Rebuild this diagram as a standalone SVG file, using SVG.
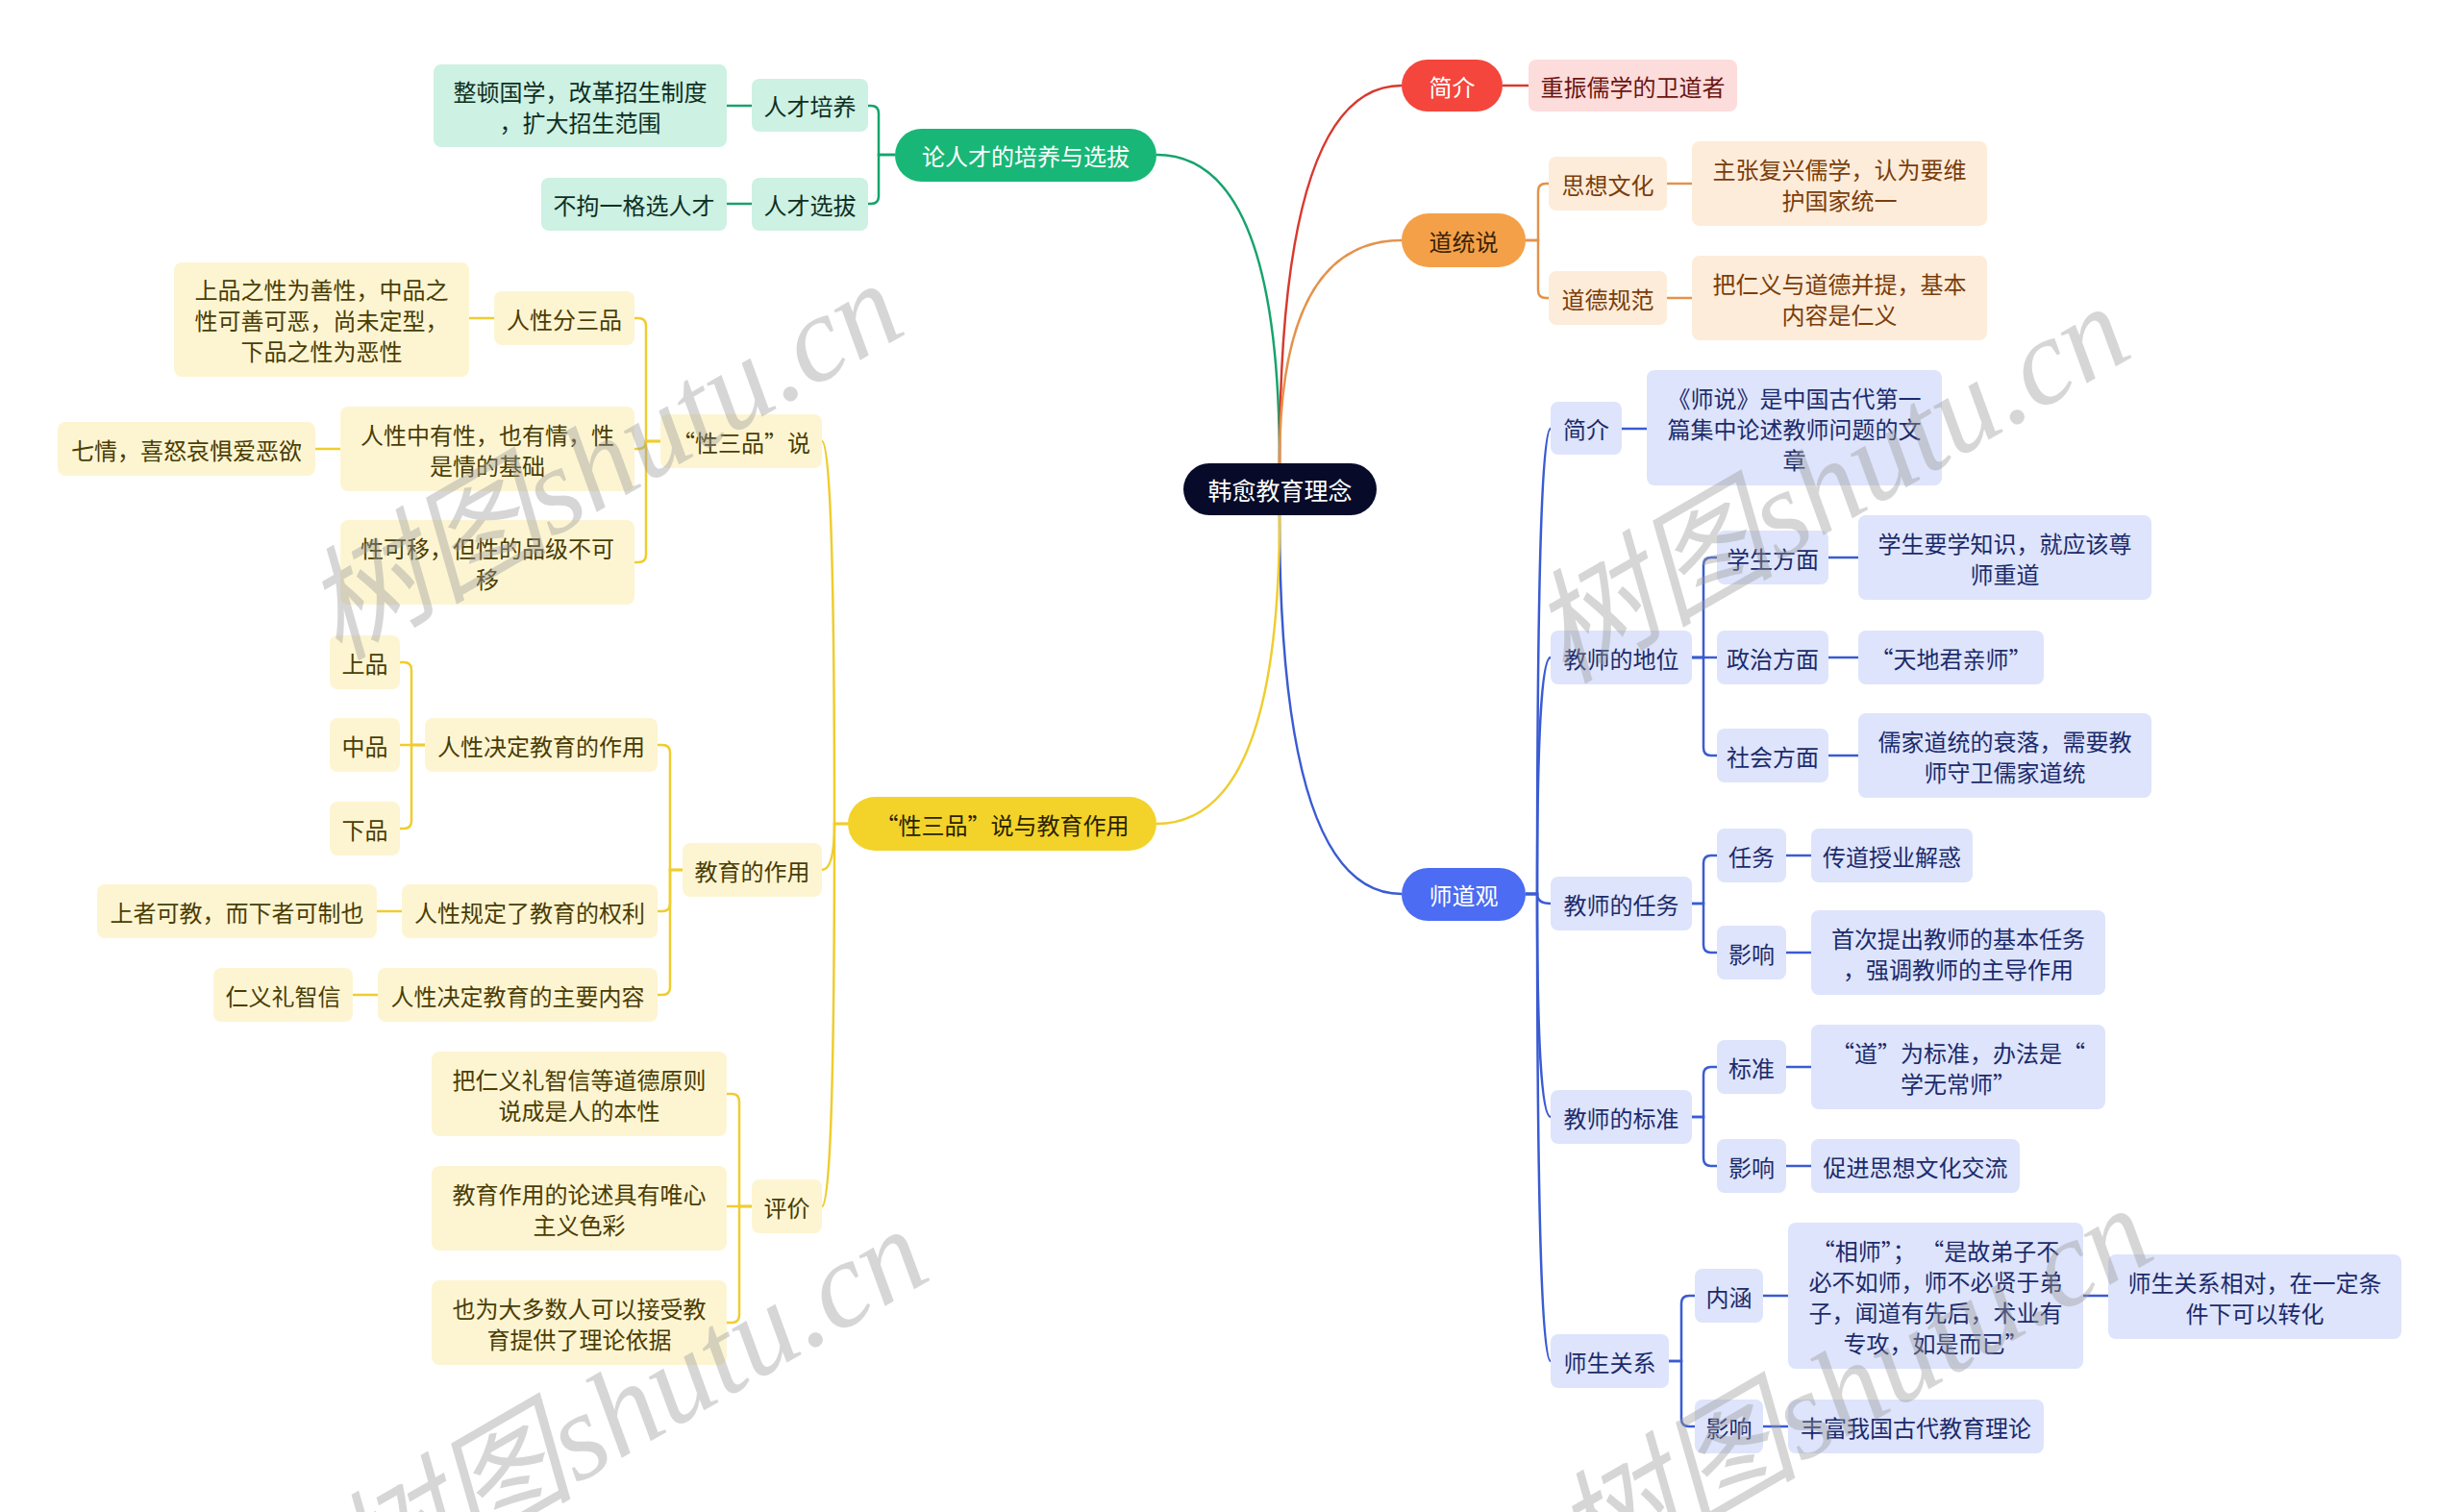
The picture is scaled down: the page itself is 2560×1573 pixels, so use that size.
<svg xmlns="http://www.w3.org/2000/svg" width="2560" height="1573" viewBox="0 0 2560 1573">
<style>
text{font-family:"Noto Sans CJK SC","Noto Sans",sans-serif;font-size:24px;text-anchor:middle;dominant-baseline:central}
.root rect{fill:#070b29}.root text{fill:#fff;font-size:25px}
.gm rect{fill:#18b777}.gm text{fill:#fff}
.gc rect{fill:#cdf1e3}.gc text{fill:#0e2e22}
.rm rect{fill:#f4463c}.rm text{fill:#fff}
.rc rect{fill:#fddcdc}.rc text{fill:#6b1510}
.om rect{fill:#f4a048}.om text{fill:#3b2206}
.oc rect{fill:#fdecd9}.oc text{fill:#7a3d0b}
.bm rect{fill:#4b6cf3}.bm text{fill:#fff}
.bc rect{fill:#dee4fb}.bc text{fill:#1c2b6c}
.ym rect{fill:#f3d32a}.ym text{fill:#2a2200}
.yc rect{fill:#fdf5d2}.yc text{fill:#4a3d05}
#connectors path{fill:none;stroke-width:2.5}
.cg{stroke:#16a36c}.cr{stroke:#d8392f}.co{stroke:#e3934b}.cb{stroke:#3a5bd3}.cy{stroke:#efcd2f}
.wm{font-family:"Liberation Serif","Noto Sans CJK SC",serif;font-style:italic;font-size:128px;fill:#9a9a9a;opacity:0.4;text-anchor:start;dominant-baseline:alphabetic}
</style>
<rect width="2560" height="1573" fill="#ffffff"/>
<g id="connectors">
<path class="cg" d="M1331,482 Q1331,161 1203,161"/>
<path class="cr" d="M1331,482 Q1331,89 1458,89"/>
<path class="co" d="M1331,482 Q1331,250 1458,250"/>
<path class="cb" d="M1331,536 Q1331,930 1458,930"/>
<path class="cy" d="M1331,536 Q1331,857 1203,857"/>
<path class="cg" d="M931,161 H914 V118 Q914,110 906,110 H903"/>
<path class="cg" d="M931,161 H914 V204 Q914,212 906,212 H903"/>
<path class="cg" d="M782,110 H756"/>
<path class="cg" d="M782,212 H756"/>
<path class="cr" d="M1563,89 H1590"/>
<path class="co" d="M1587,250 H1600 V199 Q1600,191 1608,191 H1611"/>
<path class="co" d="M1587,250 H1600 V302 Q1600,310 1608,310 H1611"/>
<path class="co" d="M1734,191 H1760"/>
<path class="co" d="M1734,310 H1760"/>
<path class="cb" d="M1587,930 H1599 Q1599,446 1613,446"/>
<path class="cb" d="M1587,930 H1599 Q1599,684 1613,684"/>
<path class="cb" d="M1587,930 H1599 Q1599,940 1613,940"/>
<path class="cb" d="M1587,930 H1599 Q1599,1162 1613,1162"/>
<path class="cb" d="M1587,930 H1599 Q1599,1416 1613,1416"/>
<path class="cb" d="M1687,446 H1713"/>
<path class="cb" d="M1760,684 H1772 V588 Q1772,580 1780,580 H1786"/>
<path class="cb" d="M1760,684 H1786"/>
<path class="cb" d="M1760,684 H1772 V778 Q1772,786 1780,786 H1786"/>
<path class="cb" d="M1902,580 H1933"/>
<path class="cb" d="M1902,684 H1933"/>
<path class="cb" d="M1902,786 H1933"/>
<path class="cb" d="M1760,940 H1772 V898 Q1772,890 1780,890 H1786"/>
<path class="cb" d="M1760,940 H1772 V983 Q1772,991 1780,991 H1786"/>
<path class="cb" d="M1858,890 H1884"/>
<path class="cb" d="M1858,991 H1884"/>
<path class="cb" d="M1760,1162 H1772 V1118 Q1772,1110 1780,1110 H1786"/>
<path class="cb" d="M1760,1162 H1772 V1205 Q1772,1213 1780,1213 H1786"/>
<path class="cb" d="M1858,1110 H1884"/>
<path class="cb" d="M1858,1213 H1884"/>
<path class="cb" d="M1736,1416 H1749 V1356 Q1749,1348 1757,1348 H1763"/>
<path class="cb" d="M1736,1416 H1749 V1476 Q1749,1484 1757,1484 H1763"/>
<path class="cb" d="M1834,1348 H1860"/>
<path class="cb" d="M1834,1484 H1860"/>
<path class="cb" d="M2167,1348 H2193"/>
<path class="cy" d="M882,857 H868 Q868,459 855,459"/>
<path class="cy" d="M882,857 H868 Q868,905 855,905"/>
<path class="cy" d="M882,857 H868 Q868,1255 855,1255"/>
<path class="cy" d="M687,459 H672 V339 Q672,331 664,331 H660"/>
<path class="cy" d="M687,459 H672 Q672,467 664,467 H660"/>
<path class="cy" d="M687,459 H672 V577 Q672,585 664,585 H660"/>
<path class="cy" d="M514,331 H488"/>
<path class="cy" d="M354,467 H328"/>
<path class="cy" d="M710,905 H697 V783 Q697,775 689,775 H684"/>
<path class="cy" d="M710,905 H697 V940 Q697,948 689,948 H684"/>
<path class="cy" d="M710,905 H697 V1027 Q697,1035 689,1035 H684"/>
<path class="cy" d="M442,775 H428 V697 Q428,689 420,689 H416"/>
<path class="cy" d="M442,775 H416"/>
<path class="cy" d="M442,775 H428 V854 Q428,862 420,862 H416"/>
<path class="cy" d="M418,948 H392"/>
<path class="cy" d="M393,1035 H367"/>
<path class="cy" d="M782,1255 H769 V1146 Q769,1138 761,1138 H756"/>
<path class="cy" d="M782,1255 H756"/>
<path class="cy" d="M782,1255 H769 V1368 Q769,1376 761,1376 H756"/>
</g>
<g id="root" class="root"><rect x="1231" y="482" width="201" height="54" rx="27"/><text x="1331.5" y="509">韩愈教育理念</text></g>

<g id="g_main" class="gm"><rect x="931" y="134" width="272" height="55" rx="27.5"/><text x="1067" y="161.5">论人才的培养与选拔</text></g>
<g id="g1" class="gc"><rect x="782" y="82" width="121" height="55" rx="8"/><text x="842.5" y="109.5">人才培养</text></g>
<g id="g1a" class="gc"><rect x="451" y="67" width="305" height="86" rx="8"/><text x="603.5" y="94">整顿国学，改革招生制度</text><text x="603.5" y="126">，扩大招生范围</text></g>
<g id="g2" class="gc"><rect x="782" y="185" width="121" height="55" rx="8"/><text x="842.5" y="212.5">人才选拔</text></g>
<g id="g2a" class="gc"><rect x="563" y="185" width="193" height="55" rx="8"/><text x="659.5" y="212.5">不拘一格选人才</text></g>

<g id="r_main" class="rm"><rect x="1458" y="62" width="105" height="54" rx="27"/><text x="1510.5" y="89">简介</text></g>
<g id="r1" class="rc"><rect x="1590" y="62" width="217" height="54" rx="8"/><text x="1698.5" y="89">重振儒学的卫道者</text></g>

<g id="o_main" class="om"><rect x="1458" y="222" width="129" height="56" rx="28"/><text x="1522.5" y="250">道统说</text></g>
<g id="o1" class="oc"><rect x="1611" y="163" width="123" height="56" rx="8"/><text x="1672.5" y="191">思想文化</text></g>
<g id="o1a" class="oc"><rect x="1760" y="147" width="307" height="88" rx="8"/><text x="1913.5" y="175">主张复兴儒学，认为要维</text><text x="1913.5" y="207">护国家统一</text></g>
<g id="o2" class="oc"><rect x="1611" y="282" width="123" height="56" rx="8"/><text x="1672.5" y="310">道德规范</text></g>
<g id="o2a" class="oc"><rect x="1760" y="266" width="307" height="88" rx="8"/><text x="1913.5" y="294">把仁义与道德并提，基本</text><text x="1913.5" y="326">内容是仁义</text></g>

<g id="b_main" class="bm"><rect x="1458" y="903" width="129" height="55" rx="27.5"/><text x="1522.5" y="930.5">师道观</text></g>
<g id="b1" class="bc"><rect x="1613" y="418" width="74" height="55" rx="8"/><text x="1650" y="445.5">简介</text></g>
<g id="b1a" class="bc"><rect x="1713" y="385" width="307" height="120" rx="8"/><text x="1866.5" y="413">《师说》是中国古代第一</text><text x="1866.5" y="445">篇集中论述教师问题的文</text><text x="1866.5" y="477">章</text></g>
<g id="b2" class="bc"><rect x="1613" y="656" width="147" height="56" rx="8"/><text x="1686.5" y="684">教师的地位</text></g>
<g id="b2a" class="bc"><rect x="1786" y="552" width="116" height="56" rx="8"/><text x="1844" y="580">学生方面</text></g>
<g id="b2a1" class="bc"><rect x="1933" y="536" width="305" height="88" rx="8"/><text x="2085.5" y="564">学生要学知识，就应该尊</text><text x="2085.5" y="596">师重道</text></g>
<g id="b2b" class="bc"><rect x="1786" y="656" width="116" height="56" rx="8"/><text x="1844" y="684">政治方面</text></g>
<g id="b2b1" class="bc"><rect x="1933" y="656" width="193" height="56" rx="8"/><text x="2029.5" y="684">“天地君亲师”</text></g>
<g id="b2c" class="bc"><rect x="1786" y="758" width="116" height="56" rx="8"/><text x="1844" y="786">社会方面</text></g>
<g id="b2c1" class="bc"><rect x="1933" y="742" width="305" height="88" rx="8"/><text x="2085.5" y="770">儒家道统的衰落，需要教</text><text x="2085.5" y="802">师守卫儒家道统</text></g>
<g id="b3" class="bc"><rect x="1613" y="912" width="147" height="56" rx="8"/><text x="1686.5" y="940">教师的任务</text></g>
<g id="b3a" class="bc"><rect x="1786" y="862" width="72" height="56" rx="8"/><text x="1822" y="890">任务</text></g>
<g id="b3a1" class="bc"><rect x="1884" y="862" width="168" height="56" rx="8"/><text x="1968" y="890">传道授业解惑</text></g>
<g id="b3b" class="bc"><rect x="1786" y="963" width="72" height="56" rx="8"/><text x="1822" y="991">影响</text></g>
<g id="b3b1" class="bc"><rect x="1884" y="947" width="306" height="88" rx="8"/><text x="2037" y="975">首次提出教师的基本任务</text><text x="2037" y="1007">，强调教师的主导作用</text></g>
<g id="b4" class="bc"><rect x="1613" y="1134" width="147" height="56" rx="8"/><text x="1686.5" y="1162">教师的标准</text></g>
<g id="b4a" class="bc"><rect x="1786" y="1082" width="72" height="56" rx="8"/><text x="1822" y="1110">标准</text></g>
<g id="b4a1" class="bc"><rect x="1884" y="1066" width="306" height="88" rx="8"/><text x="2037" y="1094">“道”为标准，办法是“</text><text x="2037" y="1126">学无常师”</text></g>
<g id="b4b" class="bc"><rect x="1786" y="1185" width="72" height="56" rx="8"/><text x="1822" y="1213">影响</text></g>
<g id="b4b1" class="bc"><rect x="1884" y="1185" width="217" height="56" rx="8"/><text x="1992.5" y="1213">促进思想文化交流</text></g>
<g id="b5" class="bc"><rect x="1613" y="1388" width="123" height="56" rx="8"/><text x="1674.5" y="1416">师生关系</text></g>
<g id="b5a" class="bc"><rect x="1763" y="1320" width="71" height="56" rx="8"/><text x="1798.5" y="1348">内涵</text></g>
<g id="b5a1" class="bc"><rect x="1860" y="1272" width="307" height="152" rx="8"/><text x="2013.5" y="1300">“相师”； “是故弟子不</text><text x="2013.5" y="1332">必不如师，师不必贤于弟</text><text x="2013.5" y="1364">子，闻道有先后，术业有</text><text x="2013.5" y="1396">专攻，如是而已”</text></g>
<g id="b5a2" class="bc"><rect x="2193" y="1305" width="305" height="88" rx="8"/><text x="2345.5" y="1333">师生关系相对，在一定条</text><text x="2345.5" y="1365">件下可以转化</text></g>
<g id="b5b" class="bc"><rect x="1763" y="1456" width="71" height="56" rx="8"/><text x="1798.5" y="1484">影响</text></g>
<g id="b5b1" class="bc"><rect x="1860" y="1456" width="266" height="56" rx="8"/><text x="1993" y="1484">丰富我国古代教育理论</text></g>

<g id="y_main" class="ym"><rect x="882" y="829" width="321" height="56" rx="28"/><text x="1042.5" y="857">“性三品”说与教育作用</text></g>
<g id="y1" class="yc"><rect x="687" y="431" width="168" height="56" rx="8"/><text x="771" y="459">“性三品”说</text></g>
<g id="y1a" class="yc"><rect x="514" y="303" width="146" height="56" rx="8"/><text x="587" y="331">人性分三品</text></g>
<g id="y1a1" class="yc"><rect x="181" y="273" width="307" height="119" rx="8"/><text x="334.5" y="300">上品之性为善性，中品之</text><text x="334.5" y="332">性可善可恶，尚未定型，</text><text x="334.5" y="364">下品之性为恶性</text></g>
<g id="y1b" class="yc"><rect x="354" y="423" width="306" height="88" rx="8"/><text x="507" y="451">人性中有性，也有情，性</text><text x="507" y="483">是情的基础</text></g>
<g id="y1b1" class="yc"><rect x="60" y="439" width="268" height="56" rx="8"/><text x="194" y="467">七情，喜怒哀惧爱恶欲</text></g>
<g id="y1c" class="yc"><rect x="354" y="541" width="306" height="88" rx="8"/><text x="507" y="569">性可移，但性的品级不可</text><text x="507" y="601">移</text></g>
<g id="y2" class="yc"><rect x="710" y="877" width="145" height="56" rx="8"/><text x="782.5" y="905">教育的作用</text></g>
<g id="y2a" class="yc"><rect x="442" y="747" width="242" height="56" rx="8"/><text x="563" y="775">人性决定教育的作用</text></g>
<g id="y2a1" class="yc"><rect x="343" y="661" width="73" height="56" rx="8"/><text x="379.5" y="689">上品</text></g>
<g id="y2a2" class="yc"><rect x="343" y="747" width="73" height="56" rx="8"/><text x="379.5" y="775">中品</text></g>
<g id="y2a3" class="yc"><rect x="343" y="834" width="73" height="56" rx="8"/><text x="379.5" y="862">下品</text></g>
<g id="y2b" class="yc"><rect x="418" y="920" width="266" height="56" rx="8"/><text x="551" y="948">人性规定了教育的权利</text></g>
<g id="y2b1" class="yc"><rect x="101" y="920" width="291" height="56" rx="8"/><text x="246.5" y="948">上者可教，而下者可制也</text></g>
<g id="y2c" class="yc"><rect x="393" y="1007" width="291" height="56" rx="8"/><text x="538.5" y="1035">人性决定教育的主要内容</text></g>
<g id="y2c1" class="yc"><rect x="222" y="1007" width="145" height="56" rx="8"/><text x="294.5" y="1035">仁义礼智信</text></g>
<g id="y3" class="yc"><rect x="782" y="1227" width="73" height="56" rx="8"/><text x="818.5" y="1255">评价</text></g>
<g id="y3a" class="yc"><rect x="449" y="1094" width="307" height="88" rx="8"/><text x="602.5" y="1122">把仁义礼智信等道德原则</text><text x="602.5" y="1154">说成是人的本性</text></g>
<g id="y3b" class="yc"><rect x="449" y="1213" width="307" height="88" rx="8"/><text x="602.5" y="1241">教育作用的论述具有唯心</text><text x="602.5" y="1273">主义色彩</text></g>
<g id="y3c" class="yc"><rect x="449" y="1332" width="307" height="88" rx="8"/><text x="602.5" y="1360">也为大多数人可以接受教</text><text x="602.5" y="1392">育提供了理论依据</text></g>

<g id="watermarks">
<text class="wm" transform="translate(352,688) rotate(-30)">树图shutu.cn</text>
<text class="wm" transform="translate(1628,712) rotate(-30)">树图shutu.cn</text>
<text class="wm" transform="translate(378,1672) rotate(-30)">树图shutu.cn</text>
<text class="wm" transform="translate(1652,1650) rotate(-30)">树图shutu.cn</text>
</g>
</svg>
